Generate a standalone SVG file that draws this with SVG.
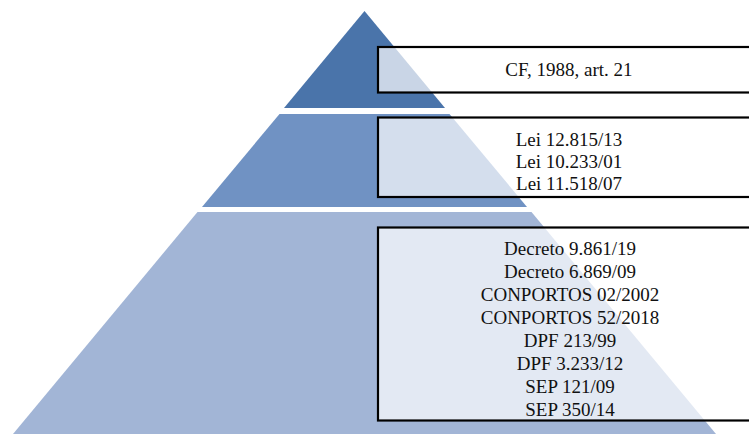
<svg xmlns="http://www.w3.org/2000/svg" width="749" height="434" viewBox="0 0 749 434">
  <style>
    .box { fill: #ffffff; fill-opacity: 0.7; stroke: #000000; stroke-width: 2.2; }
    .lbl { font-family: "Liberation Serif", "Times New Roman", serif; font-size: 19px; fill: #111111; text-anchor: middle; }
  </style>
  <rect width="749" height="434" fill="#ffffff"/>

  <!-- pyramid tiers, apex at (364.5, 11) -->
  <g id="tier-top">
    <polygon points="364.5,11 445,108 284,108" fill="#4a74aa"/>
  </g>
  <g id="tier-middle">
    <polygon points="279.5,114 449.5,114 527,207 202,207" fill="#7092c3"/>
  </g>
  <g id="tier-bottom">
    <polygon points="197.5,212 531.5,212 716,434 13,434" fill="#a2b5d6"/>
  </g>

  <!-- label boxes, running off the right edge -->
  <g id="box-constitution">
    <rect class="box" x="378" y="47" width="382" height="45.5"/>
    <text class="lbl" x="569" y="76">CF, 1988, art. 21</text>
  </g>
  <g id="box-laws">
    <rect class="box" x="378" y="117.5" width="382" height="79.5"/>
    <text class="lbl" x="569" y="146">Lei 12.815/13</text>
    <text class="lbl" x="569" y="168">Lei 10.233/01</text>
    <text class="lbl" x="569" y="190">Lei 11.518/07</text>
  </g>
  <g id="box-regulations">
    <rect class="box" x="378" y="227.5" width="382" height="193"/>
    <text class="lbl" x="570" y="255">Decreto 9.861/19</text>
    <text class="lbl" x="570" y="278">Decreto 6.869/09</text>
    <text class="lbl" x="570" y="301">CONPORTOS 02/2002</text>
    <text class="lbl" x="570" y="324">CONPORTOS 52/2018</text>
    <text class="lbl" x="570" y="347">DPF 213/99</text>
    <text class="lbl" x="570" y="370">DPF 3.233/12</text>
    <text class="lbl" x="570" y="393">SEP 121/09</text>
    <text class="lbl" x="570" y="416">SEP 350/14</text>
  </g>
</svg>
